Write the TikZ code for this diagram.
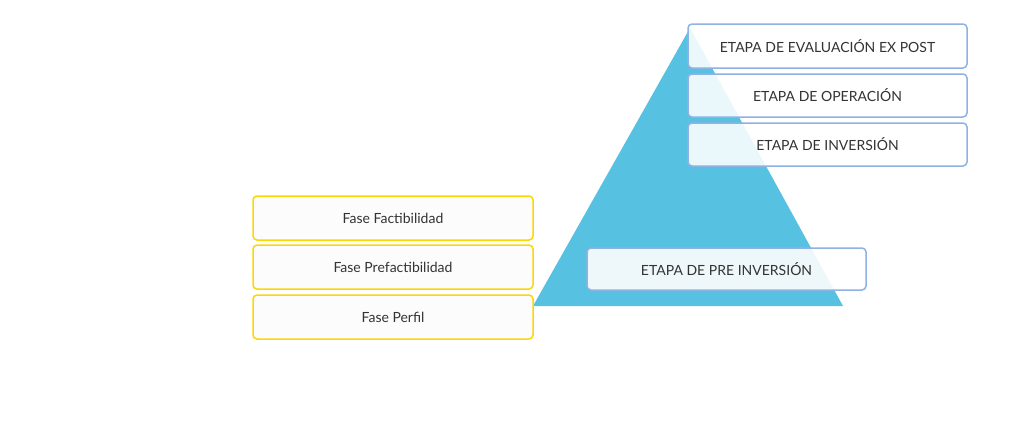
\documentclass[tikz,border=0pt]{standalone}
\usepackage{fontspec}
\setmainfont{Lato}
\begin{document}
\begin{tikzpicture}[x=1pt,y=-1pt,
  bluebox/.style={draw=cyan!55!blue!45, line width=1.5pt, rounded corners=4pt, fill=white, fill opacity=0.88, text opacity=1, text=black!80, font=\fontsize{14}{16}\selectfont},
  yelbox/.style={draw=yellow!75!orange, line width=1.5pt, rounded corners=4pt, fill=black!1, text=black!80, font=\fontsize{14}{16}\selectfont}]
\useasboundingbox (0,0) rectangle (1024,431);
\definecolor{tri}{HTML}{56C1E0}
\fill[tri] (690,28) -- (843,306) -- (533,306) -- cycle;
\node[bluebox, minimum width=279pt, minimum height=44pt] (ev) at (827.5,46) {ETAPA DE EVALUACIÓN EX POST};
\node[bluebox, minimum width=279pt, minimum height=43pt] (op) at (827.5,95.5) {ETAPA DE OPERACIÓN};
\node[bluebox, minimum width=279pt, minimum height=43pt] (inv) at (827.5,144.5) {ETAPA DE INVERSIÓN};
\node[bluebox, fill opacity=0.9, minimum width=279pt, minimum height=42pt] (pre) at (726.5,269) {ETAPA DE PRE INVERSIÓN};
\node[yelbox, minimum width=280pt, minimum height=44pt] (fa) at (393,218) {Fase Factibilidad};
\node[yelbox, minimum width=280pt, minimum height=44pt] (pf) at (393,267) {Fase Prefactibilidad};
\node[yelbox, minimum width=280pt, minimum height=44pt] (pe) at (393,317) {Fase Perfil};
\end{tikzpicture}
\end{document}
